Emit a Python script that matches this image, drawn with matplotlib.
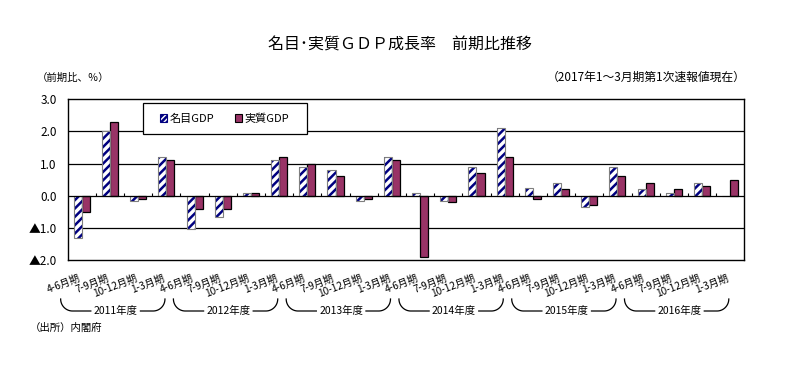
import numpy as np
import matplotlib
matplotlib.use('Agg')
import matplotlib.pyplot as plt
import matplotlib.transforms as mtransforms
from matplotlib.patches import Rectangle, Patch

plt.rcParams['font.family'] = ['Noto Sans CJK JP', 'DejaVu Sans']
plt.rcParams['hatch.linewidth'] = 1.8

# ---------------- data ----------------
quarters = ["4-6月期", "7-9月期", "10-12月期", "1-3月期"] * 6
fiscal_years = ["2011年度", "2012年度", "2013年度", "2014年度", "2015年度", "2016年度"]
nominal = [-1.3, 2.0, -0.15, 1.2, -1.05, -0.65, 0.1, 1.1,
           0.9, 0.8, -0.15, 1.2, 0.1, -0.15, 0.9, 2.1,
           0.25, 0.4, -0.35, 0.9, 0.2, 0.1, 0.4, 0.0]
real = [-0.5, 2.3, -0.1, 1.1, -0.4, -0.4, 0.1, 1.2,
        1.0, 0.6, -0.1, 1.1, -1.9, -0.2, 0.7, 1.2,
        -0.1, 0.2, -0.3, 0.6, 0.4, 0.2, 0.3, 0.5]
y_ticks = [-2.0, -1.0, 0.0, 1.0, 2.0, 3.0]
y_ticklabels = ["▲2.0", "▲1.0", "0.0", "1.0", "2.0", "3.0"]
series_names = ["名目GDP", "実質GDP"]

# ---------------- figure ----------------
W, H = 812, 371
fig = plt.figure(figsize=(W / 100, H / 100), dpi=100)
L, R, T, B = 67.7, 744.3, 99.3, 260.0
ax = fig.add_axes([L / W, 1 - B / H, (R - L) / W, (B - T) / H])

x = np.arange(len(quarters))
w = 0.285
NAVY = '#000080'
MAROON = '#993366'

ax.bar(x - w / 2, nominal, w, color='white', edgecolor=NAVY, hatch='////',
       linewidth=0, zorder=3)
ax.bar(x - w / 2, nominal, w, fill=False, edgecolor='#7f7f7f', linewidth=0.8, zorder=3.1)
ax.bar(x + w / 2, real, w, color=MAROON, edgecolor='black', linewidth=0.9, zorder=3)

ax.set_xlim(-0.5, len(quarters) - 0.5)
ax.set_ylim(-2.0, 3.0)

for gy in [-1.0, 1.0, 2.0]:
    ax.axhline(gy, color='black', lw=0.9, zorder=1)
ax.axhline(0, color='black', lw=0.9, zorder=3.5)
ax.vlines(np.arange(0.5, len(quarters) - 1), 0, 0.09, color='black', lw=0.8, zorder=3.5)

for sp in ax.spines.values():
    sp.set_linewidth(1.0)
    sp.set_color('black')

ax.set_yticks(y_ticks)
ax.set_yticklabels(y_ticklabels, fontsize=8.5)
ax.tick_params(axis='y', length=0, pad=8)
ax.set_xticks(x)
ax.set_xticklabels(quarters, rotation=21, ha='right', fontsize=7.3)
ax.tick_params(axis='x', length=0, pad=9.0)

# legend box
lx0, lx1, ly0, ly1 = 142.7, 306.7, 103.3, 134.3
ax.add_patch(Rectangle(((lx0 - L) / (R - L), (B - ly1) / (B - T)),
                       (lx1 - lx0) / (R - L), (ly1 - ly0) / (B - T),
                       transform=ax.transAxes, facecolor='white', edgecolor='black',
                       lw=0.9, zorder=4))
handles = [Patch(facecolor='white', edgecolor=NAVY, hatch='//////', lw=0.8),
           Patch(facecolor=MAROON, edgecolor='black', lw=0.8)]
leg = ax.legend(handles, series_names, ncol=2, frameon=False, loc='center',
                bbox_to_anchor=(((lx0 + lx1) / 2 - L) / (R - L), (B - (ly0 + ly1) / 2) / (B - T)),
                fontsize=8, handlelength=0.65, handleheight=0.65, handletextpad=0.25,
                columnspacing=1.8)
leg.set_zorder(5)

# fiscal year brackets
trans = mtransforms.blended_transform_factory(ax.transData, ax.transAxes)
y_top = (B - 299) / (B - T)
y_bot = (B - 311) / (B - T)
rx = 0.42
ry = y_top - y_bot
t = np.linspace(0, np.pi / 2, 25)
for g, fy in enumerate(fiscal_years):
    s = 4 * g
    x0, x1 = s - 0.75, s + 2.95
    c = s + 1.2
    lxs = np.concatenate([x0 + rx * (1 - np.cos(t)), [c - 0.88]])
    lys = np.concatenate([y_top - ry * np.sin(t), [y_bot]])
    ax.plot(lxs, lys, transform=trans, color='black', lw=0.9, clip_on=False)
    rxs = np.concatenate([[c + 0.88], (x1 - rx * (1 - np.cos(t)))[::-1]])
    rys = np.concatenate([[y_bot], (y_top - ry * np.sin(t))[::-1]])
    ax.plot(rxs, rys, transform=trans, color='black', lw=0.9, clip_on=False)
    ax.text(c, y_bot, fy, transform=trans, ha='center', va='center', fontsize=7.5)

# texts
fig.text(400 / W, 1 - 45 / H, "名目･実質ＧＤＰ成長率　前期比推移", ha='center', va='center',
         fontsize=11.5)
fig.text(37 / W, 1 - 77.5 / H, "（前期比、％）", ha='left', va='center', fontsize=7.5)
fig.text(746 / W, 1 - 77.5 / H, "（2017年1～3月期第1次速報値現在）", ha='right', va='center',
         fontsize=8.5)
fig.text(30 / W, 1 - 328 / H, "（出所）内閣府", ha='left', va='center', fontsize=7.5)

fig.savefig('out.png', dpi=100)
